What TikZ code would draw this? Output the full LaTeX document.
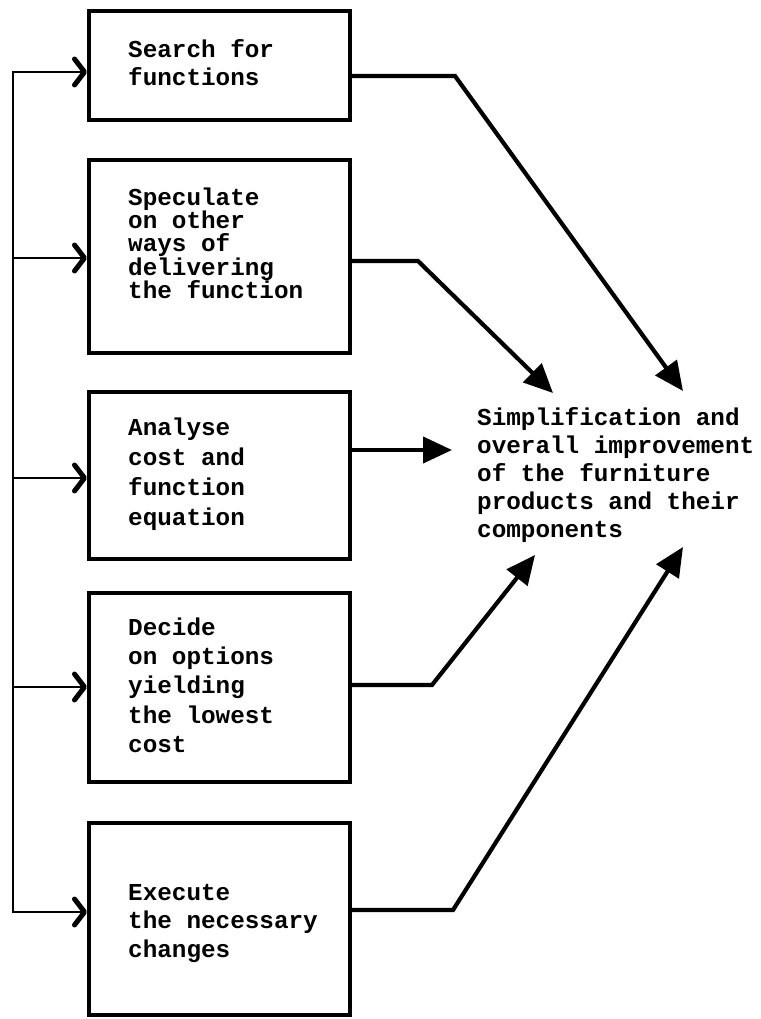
\documentclass[tikz,border=0pt]{standalone}
\usepackage{fontspec}
\newfontfamily\twfont{Liberation Mono}
\usetikzlibrary{arrows.meta}
\newcommand\firststrut{\rule{0pt}{18pt}}

\begin{document}
\begin{tikzpicture}[x=1pt,y=-1pt,
  stepbox/.style={draw, line width=4pt, minimum width=261pt, inner sep=0pt},
  lead/.style={anchor=north west, inner sep=0pt, align=left,
    font=\twfont\bfseries\fontsize{24.3pt}{#1}\selectfont},
  bus/.style={line width=2.4pt, line cap=rect},
  feed/.style={line width=2.4pt, -{Straight Barb[length=10pt,width=26pt,line width=5pt,round]}},
  result/.style={line width=4.2pt, -{Triangle[length=29pt,width=26pt]}},
]
\useasboundingbox (0,0) rectangle (760,1019);

% the five steps
\node[stepbox, minimum height=109pt] (bx1) at (219.5,65.5) {};
\node[stepbox, minimum height=193pt] (bx2) at (219.5,256.5) {};
\node[stepbox, minimum height=167pt] (bx3) at (219.5,475.5) {};
\node[stepbox, minimum height=189pt] (bx4) at (219.5,687.5) {};
\node[stepbox, minimum height=192pt] (bx5) at (219.5,919) {};

\node[lead=28pt] (tx1) at (128,39) {\firststrut Search for\\functions};
\node[lead=23.3pt] (tx2) at (128,187) {\firststrut Speculate\\on other\\ways of\\delivering\\the function};
\node[lead=30pt] (tx3) at (128,417) {\firststrut Analyse\\cost and\\function\\equation};
\node[lead=29.3pt] (tx4) at (128,617) {\firststrut Decide\\on options\\yielding\\the lowest\\cost};
\node[lead=28.5pt] (tx5) at (128,882) {\firststrut Execute\\the necessary\\changes};

% the outcome
\node[lead=28pt] (out) at (477,407) {\firststrut Simplification and\\overall improvement\\of the furniture\\products and their\\components};

% feedback bus on the left
\coordinate (b1) at (13,72);
\coordinate (b2) at (13,258);
\coordinate (b3) at (13,478);
\coordinate (b4) at (13,687);
\coordinate (b5) at (13,912);
\draw[bus] (b1) -- (b5);
\draw[feed] (b1) -- (b1 -| bx1.west);
\draw[feed] (b2) -- (b2 -| bx2.west);
\draw[feed] (b3) -- (b3 -| bx3.west);
\draw[feed] (b4) -- (b4 -| bx4.west);
\draw[feed] (b5) -- (b5 -| bx5.west);

% connectors into the outcome
\coordinate (k1) at (455,76);
\coordinate (k2) at (418,261);
\coordinate (k3) at (452,450);
\coordinate (k4) at (432,685);
\coordinate (k5) at (453,910);
\coordinate (e1) at (683,391);
\coordinate (e2) at (553,393);
\coordinate (e4) at (535,555);
\coordinate (e5) at (683,547);

\draw[result] (bx1.east |- k1) -- (k1) -- (e1);
\draw[result] (bx2.east |- k2) -- (k2) -- (e2);
\draw[result] (bx3.east |- k3) -- (k3);
\draw[result] (bx4.east |- k4) -- (k4) -- (e4);
\draw[result] (bx5.east |- k5) -- (k5) -- (e5);
\end{tikzpicture}
\end{document}
